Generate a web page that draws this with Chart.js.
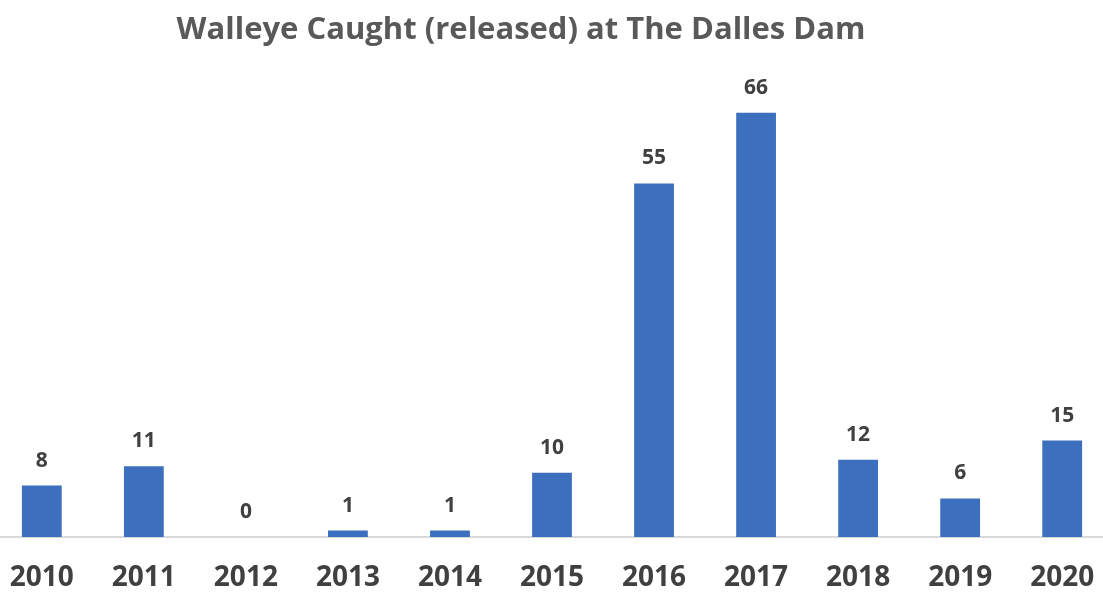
<!DOCTYPE html>
<html>
<head>
<meta charset="utf-8">
<script src="https://cdn.jsdelivr.net/npm/chart.js@4"></script>
<style>
  html, body { margin: 0; padding: 0; background: #fff; overflow: hidden; }
  #wrap { position: absolute; left: -14px; top: 0; width: 1132px; height: 592px; }
</style>
</head>
<body>
<div id="wrap"><canvas id="myChart"></canvas></div>
<script>
// datos del grafico
const years = ['2010', '2011', '2012', '2013', '2014', '2015', '2016', '2017', '2018', '2019', '2020'];
const walleye = [8, 11, 0, 1, 1, 10, 55, 66, 12, 6, 15];
const titulo = 'Walleye Caught (released) at The Dalles Dam';

// etiquetas sobre cada barra + titulo
const etiquetas = {
  id: 'etiquetas',
  afterDatasetsDraw(chart) {
    const ctx = chart.ctx;
    const meta = chart.getDatasetMeta(0);
    ctx.save();
    ctx.font = 'bold 21px "Open Sans"';
    ctx.fillStyle = '#404040';
    ctx.textAlign = 'center';
    ctx.textBaseline = 'middle';
    meta.data.forEach((bar, i) => {
      ctx.fillText(walleye[i], bar.x, bar.y - 25);
    });
    // titulo (un poco a la izquierda del centro, como el original)
    ctx.font = 'bold 31px "Open Sans"';
    ctx.fillStyle = '#595959';
    ctx.fillText(titulo, 535, 30);
    ctx.restore();
  }
};

const chartDOM = document.getElementById('myChart');
new Chart(chartDOM, {
  type: 'bar',
  data: {
    labels: years,
    datasets: [{
      label: 'Walleye',
      data: walleye,
      backgroundColor: '#3d6fbf',
      barPercentage: 0.39,
      categoryPercentage: 1
    }]
  },
  options: {
    responsive: true,
    maintainAspectRatio: false,
    animation: false,
    layout: { padding: { top: 87, bottom: 0, left: 0, right: 0 } },
    plugins: {
      legend: { display: false },
      tooltip: { enabled: false },
      title: { display: false }
    },
    scales: {
      x: {
        grid: { display: false, drawTicks: false },
        border: { display: true, color: '#d9d9d9', width: 2 },
        ticks: {
          color: '#404040',
          font: { family: '"Open Sans"', size: 28, weight: 'bold' },
          padding: 24,
          maxRotation: 0
        },
        afterFit(scale) { scale.height = 55; }
      },
      y: {
        display: false,
        min: 0,
        max: 70
      }
    }
  },
  plugins: [etiquetas]
});
</script>
</body>
</html>
